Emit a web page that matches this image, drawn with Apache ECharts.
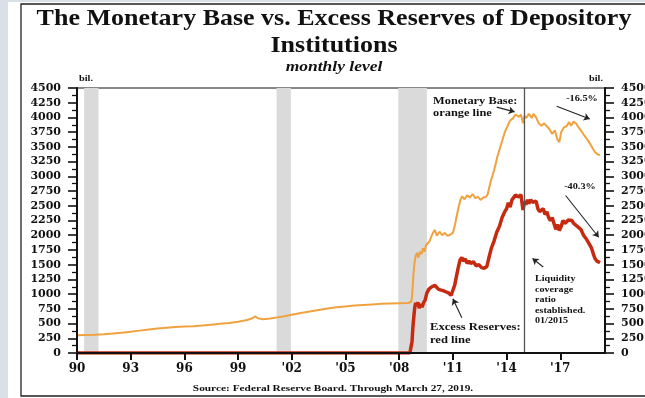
<!DOCTYPE html>
<html>
<head>
<meta charset="utf-8">
<script src="https://cdn.jsdelivr.net/npm/echarts@6/dist/echarts.min.js"></script>
<style>
  html, body { margin: 0; padding: 0; background: #d9e0e8; }
  #c { width: 645px; height: 398px; }
</style>
</head>
<body>
<div id="c"></div>
<script>
// Monetary base, billions of dollars: [decimal year, level]
const monetaryBase = [
  [1990.0, 300], [1990.5, 305], [1991.0, 310], [1991.5, 318], [1992.0, 330], [1992.5, 345],
  [1993.0, 360], [1993.5, 380], [1994.0, 400], [1994.5, 415], [1995.0, 430], [1995.5, 440],
  [1996.0, 448], [1996.5, 455], [1997.0, 465], [1997.5, 480], [1998.0, 495], [1998.5, 510],
  [1999.0, 530], [1999.5, 560], [1999.8, 590], [1999.95, 625], [2000.1, 590], [2000.4, 575],
  [2000.8, 585], [2001.2, 605], [2001.6, 625], [2002.0, 650], [2002.5, 680], [2003.0, 705],
  [2003.5, 730], [2004.0, 755], [2004.5, 775], [2005.0, 790], [2005.5, 805], [2006.0, 815],
  [2006.5, 825], [2007.0, 835], [2007.5, 840], [2008.0, 845], [2008.5, 850], [2008.68, 870],
  [2008.73, 1000], [2008.78, 1250], [2008.83, 1450], [2008.88, 1580], [2008.93, 1660],
  [2009.0, 1700], [2009.08, 1620], [2009.16, 1720], [2009.25, 1680], [2009.33, 1780],
  [2009.42, 1720], [2009.5, 1830], [2009.6, 1800], [2009.7, 1900], [2009.8, 1980],
  [2009.9, 2050], [2010.0, 2090], [2010.1, 1990], [2010.25, 2060], [2010.4, 2000],
  [2010.55, 2040], [2010.7, 1990], [2010.85, 2010], [2011.0, 2040], [2011.1, 2150],
  [2011.2, 2300], [2011.3, 2450], [2011.42, 2600], [2011.52, 2660], [2011.65, 2610],
  [2011.8, 2680], [2011.95, 2640], [2012.1, 2700], [2012.25, 2630], [2012.4, 2650],
  [2012.55, 2600], [2012.7, 2640], [2012.85, 2650], [2012.95, 2700], [2013.1, 2900],
  [2013.3, 3100], [2013.5, 3350], [2013.7, 3550], [2013.9, 3750], [2014.05, 3850],
  [2014.2, 3950], [2014.35, 3980], [2014.5, 4050], [2014.6, 4075], [2014.7, 4010],
  [2014.8, 4050], [2014.92, 3900], [2015.0, 4024], [2015.1, 3990], [2015.25, 4060],
  [2015.4, 3990], [2015.5, 4060], [2015.65, 4000], [2015.8, 3900], [2015.95, 3860],
  [2016.1, 3900], [2016.25, 3850], [2016.4, 3800], [2016.55, 3720], [2016.7, 3780],
  [2016.85, 3620], [2016.95, 3580], [2017.05, 3750], [2017.2, 3830], [2017.35, 3850],
  [2017.5, 3920], [2017.6, 3860], [2017.75, 3930], [2017.9, 3890], [2018.05, 3820],
  [2018.2, 3760], [2018.35, 3690], [2018.5, 3630], [2018.65, 3560], [2018.8, 3480],
  [2018.95, 3410], [2019.1, 3370], [2019.22, 3360]
];

// Excess reserves of depository institutions, billions of dollars
const excessReserves = [
  [1990.0, 1], [2008.6, 1], [2008.67, 30], [2008.72, 200], [2008.77, 450], [2008.82, 620],
  [2008.87, 770], [2008.92, 850], [2008.97, 800], [2009.05, 860], [2009.12, 760],
  [2009.2, 830], [2009.28, 780], [2009.36, 850], [2009.45, 900], [2009.55, 1020],
  [2009.65, 1080], [2009.72, 1050], [2009.8, 1120], [2009.9, 1100], [2010.0, 1150],
  [2010.1, 1170], [2010.2, 1080], [2010.3, 1100], [2010.45, 1060], [2010.6, 1040],
  [2010.75, 1020], [2010.9, 980], [2011.0, 1000], [2011.1, 1150], [2011.2, 1300],
  [2011.3, 1450], [2011.4, 1580], [2011.5, 1620], [2011.6, 1560], [2011.7, 1600],
  [2011.8, 1520], [2011.9, 1560], [2012.0, 1520], [2012.15, 1550], [2012.3, 1480],
  [2012.45, 1500], [2012.6, 1450], [2012.75, 1440], [2012.9, 1470], [2013.0, 1600],
  [2013.15, 1780], [2013.3, 1900], [2013.45, 2050], [2013.6, 2150], [2013.75, 2300],
  [2013.9, 2400], [2014.0, 2450], [2014.1, 2550], [2014.2, 2480], [2014.3, 2600],
  [2014.4, 2620], [2014.5, 2680], [2014.6, 2710], [2014.7, 2650], [2014.8, 2690],
  [2014.92, 2430], [2015.0, 2570], [2015.08, 2520], [2015.17, 2600], [2015.25, 2540],
  [2015.35, 2600], [2015.45, 2560], [2015.55, 2540], [2015.65, 2580], [2015.75, 2450],
  [2015.85, 2400], [2015.95, 2380], [2016.05, 2450], [2016.15, 2350], [2016.25, 2400],
  [2016.35, 2300], [2016.45, 2250], [2016.55, 2300], [2016.65, 2200], [2016.75, 2100],
  [2016.85, 2180], [2016.95, 2080], [2017.05, 2150], [2017.15, 2250], [2017.25, 2200],
  [2017.35, 2180], [2017.45, 2260], [2017.55, 2230], [2017.65, 2250], [2017.75, 2200],
  [2017.85, 2230], [2017.95, 2150], [2018.05, 2170], [2018.15, 2100], [2018.3, 2000],
  [2018.45, 1940], [2018.6, 1860], [2018.75, 1780], [2018.85, 1680], [2018.95, 1600],
  [2019.05, 1560], [2019.15, 1540], [2019.22, 1534]
];

// Recession periods (start, end)
const recessions = [[1990.4, 1991.2], [2001.15, 2001.95], [2007.95, 2009.55]];

// Liquidity coverage ratio established, January 2015
const lcrDate = 2015.0;

// Axis ticks
const yearTicks = [1990, 1993, 1996, 1999, 2002, 2005, 2008, 2011, 2014, 2017];
const yearLabel = y => (y < 2000 ? String(y % 100) : "'" + String(y % 100).padStart(2, '0'));

// Annotation arrows: [tail, head] in [year, billions]
const arrows = [
  [[2013.45, 4175], [2014.45, 4095]],
  [[2016.8, 4190], [2018.65, 3975]],
  [[2017.3, 2675], [2019.15, 1965]],
  [[2016.05, 1460], [2015.45, 1605]],
  [[2011.5, 600], [2011.0, 920]]
];

const serif = '"Liberation Serif", "Times New Roman", serif';
const axisFont = '"DejaVu Serif", serif';
const ink = '#111';

const chart = echarts.init(document.getElementById('c'), null, { renderer: 'canvas' });

function yAxisDef(pos, margin) {
  return {
    type: 'value', position: pos, min: 0, max: 4500, interval: 250, z: 10,
    axisLine: { show: true, lineStyle: { color: ink, width: 2 } },
    axisTick: { show: true, inside: false, length: 9, lineStyle: { color: ink, width: 1.6 } },
    minorTick: { show: true, splitNumber: 2, length: 5, lineStyle: { color: ink, width: 1.3 } },
    axisLabel: { color: ink, fontFamily: axisFont, fontWeight: 'bold', fontSize: 11, margin: margin,
                 formatter: v => String(v) },
    splitLine: { show: false }
  };
}

const txt = (x, y, s, opt, sx) => Object.assign({
  type: 'text', x: x, y: y, silent: true, scaleX: sx || 1.2, z: 20,
  style: Object.assign({ text: s, fill: ink, fontFamily: serif, fontWeight: 'bold', fontSize: 10,
    textAlign: 'left', textVerticalAlign: 'middle' }, opt || {})
});

chart.setOption({
  backgroundColor: 'transparent',
  animation: false,
  grid: { left: 77, top: 88, width: 528, height: 265, show: true, backgroundColor: '#fff',
          borderColor: ink, borderWidth: 1.2, containLabel: false, outerBoundsMode: 'none' },
  xAxis: {
    type: 'value', min: 1990, max: 2019.5, z: 10,
    axisLine: { show: true, lineStyle: { color: ink, width: 2 } },
    axisTick: { show: true, customValues: yearTicks, length: 7, lineStyle: { color: ink, width: 2 } },
    axisLabel: { customValues: yearTicks, formatter: v => yearLabel(v), color: ink, fontFamily: axisFont,
                 fontWeight: 'bold', fontSize: 12, margin: 10 },
    splitLine: { show: false }
  },
  yAxis: [yAxisDef('left', 16), yAxisDef('right', 16)],
  series: [
    {
      name: 'Monetary Base', type: 'line', data: monetaryBase, showSymbol: false, z: 3,
      lineStyle: { color: '#f0a23e', width: 2 },
      markArea: {
        silent: true, itemStyle: { color: '#dadada' },
        data: recessions.map(r => [{ xAxis: r[0] }, { xAxis: r[1] }])
      },
      markLine: {
        silent: true, animation: false, label: { show: false },
        lineStyle: { color: '#222', width: 1.1, type: 'solid' },
        data: arrows.map(a => [
          { coord: a[0], symbol: 'none' },
          { coord: a[1], symbol: 'arrow', symbolSize: 6 }
        ])
      }
    },
    {
      name: 'Excess Reserves', type: 'line', data: excessReserves, showSymbol: false, z: 4,
      lineStyle: { color: '#c62a10', width: 3.5 },
      markLine: {
        silent: true, animation: false, symbol: ['none', 'none'], label: { show: false },
        lineStyle: { color: '#555', width: 1.3, type: 'solid' },
        data: [{ xAxis: lcrDate }]
      }
    }
  ],
  graphic: [
    { type: 'rect', shape: { x: 8, y: 2, width: 640, height: 396 }, style: { fill: '#fff' }, z: -10 },
    { type: 'rect', shape: { x: 21, y: 4, width: 640, height: 392 },
      style: { fill: 'none', stroke: '#222', lineWidth: 1.3 }, z: -9 },
    txt(334, 19, 'The Monetary Base vs. Excess Reserves of Depository', { fontSize: 23, textAlign: 'center' }, 1.13),
    txt(334, 46, 'Institutions', { fontSize: 23, textAlign: 'center' }, 1.13),
    txt(334, 67, 'monthly level', { fontSize: 14, fontStyle: 'italic', textAlign: 'center' }, 1.25),
    txt(86, 79, 'bil.', { fontSize: 8.5, textAlign: 'center' }),
    txt(596, 79, 'bil.', { fontSize: 8.5, textAlign: 'center' }),
    txt(433, 101, 'Monetary Base:', { fontSize: 10.5 }, 1.18),
    txt(433, 113, 'orange line', { fontSize: 10.5 }, 1.18),
    txt(582, 99, '-16.5%', { fontSize: 9, textAlign: 'center' }, 1.14),
    txt(580, 187, '-40.3%', { fontSize: 9, textAlign: 'center' }, 1.14),
    txt(535, 279, 'Liquidity', { fontSize: 8.5 }, 1.19),
    txt(535, 290, 'coverage', { fontSize: 8.5 }, 1.19),
    txt(535, 300, 'ratio', { fontSize: 8.5 }, 1.19),
    txt(535, 311, 'established.', { fontSize: 8.5 }, 1.19),
    txt(535, 321, '01/2015', { fontSize: 8.5 }, 1.19),
    txt(430, 327, 'Excess Reserves:', { fontSize: 10.5 }, 1.2),
    txt(430, 340, 'red line', { fontSize: 10.5 }, 1.2),
    txt(333, 389, 'Source: Federal Reserve Board. Through March 27, 2019.', { fontSize: 9, textAlign: 'center' }, 1.26)
  ]
});
</script>
</body>
</html>
